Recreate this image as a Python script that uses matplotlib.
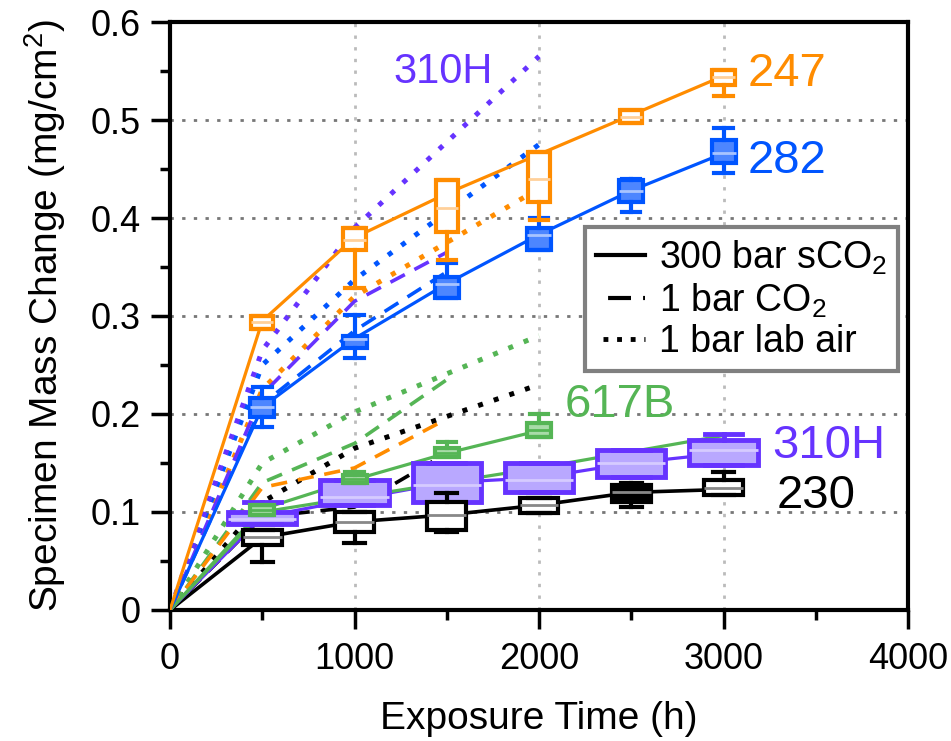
import matplotlib
matplotlib.use('Agg')
import matplotlib.pyplot as plt
from matplotlib.lines import Line2D
from matplotlib.ticker import MultipleLocator

plt.rcParams['font.family'] = ['Liberation Sans', 'DejaVu Sans']
plt.rcParams['mathtext.default'] = 'regular'

# -----------------------------------------------------------------------------
# data (mg/cm^2 vs exposure hours)
# -----------------------------------------------------------------------------
t_sco2 = [0, 500, 1000, 1500, 2000, 2500, 3000]
t_box = [500, 1000, 1500, 2000, 2500, 3000]
t_co2 = [0, 500, 1000, 1500]
t_air = [0, 500, 1000, 2000]

# 300 bar sCO2, mean lines
sco2_247 = [0, 0.295, 0.38, 0.425, 0.465, 0.505, 0.545]
sco2_282 = [0, 0.207, 0.277, 0.333, 0.383, 0.428, 0.466]
sco2_310 = [0, 0.095, 0.113, 0.130, 0.135, 0.150, 0.160]
sco2_230 = [0, 0.074, 0.090, 0.097, 0.107, 0.120, 0.123]
t_sco2_617 = [0, 500, 1000, 1500, 2000]
sco2_617 = [0, 0.103, 0.133, 0.160, 0.183]
t_sco2_617b = [0, 500, 2000, 3000]
sco2_617b = [0, 0.100, 0.145, 0.178]

# 300 bar sCO2, box statistics (q1, q3, median, whisker low, whisker high)
box_247 = dict(q1=[0.287, 0.367, 0.386, 0.416, 0.497, 0.536],
               q3=[0.300, 0.390, 0.439, 0.467, 0.510, 0.551],
               med=[0.294, 0.378, 0.410, 0.440, 0.503, 0.544],
               lo=[0.287, 0.329, 0.357, 0.398, 0.497, 0.525],
               hi=[0.300, 0.390, 0.439, 0.467, 0.510, 0.551])
box_282 = dict(q1=[0.197, 0.267, 0.318, 0.367, 0.416, 0.456],
               q3=[0.216, 0.280, 0.340, 0.390, 0.439, 0.480],
               med=[0.207, 0.277, 0.333, 0.383, 0.428, 0.466],
               lo=[0.187, 0.257, 0.318, 0.367, 0.406, 0.446],
               hi=[0.228, 0.301, 0.354, 0.400, 0.440, 0.492])
box_310 = dict(q1=[0.088, 0.107, 0.110, 0.120, 0.136, 0.148],
               q3=[0.100, 0.133, 0.150, 0.150, 0.163, 0.173],
               med=[0.093, 0.115, 0.128, 0.133, 0.150, 0.163],
               lo=[0.088, 0.107, 0.110, 0.120, 0.136, 0.148],
               hi=[0.110, 0.133, 0.150, 0.150, 0.163, 0.180])
box_230 = dict(q1=[0.066, 0.080, 0.082, 0.099, 0.110, 0.117],
               q3=[0.082, 0.100, 0.110, 0.114, 0.128, 0.133],
               med=[0.074, 0.090, 0.097, 0.107, 0.120, 0.124],
               lo=[0.049, 0.068, 0.080, 0.099, 0.105, 0.117],
               hi=[0.082, 0.100, 0.119, 0.114, 0.130, 0.141])
t_box_617 = [500, 1000, 1500, 2000]
box_617 = dict(q1=[0.097, 0.130, 0.156, 0.177],
               q3=[0.107, 0.138, 0.165, 0.191],
               med=[0.102, 0.134, 0.160, 0.184],
               lo=[0.097, 0.130, 0.156, 0.177],
               hi=[0.107, 0.141, 0.171, 0.200])

# 1 bar CO2
co2_310 = [0, 0.220, 0.315, 0.365]
co2_282 = [0, 0.210, 0.285, 0.345]
co2_247 = [0, 0.125, 0.145, 0.195]
co2_617 = [0, 0.130, 0.170, 0.235]
co2_230 = [0, 0.095, 0.105, 0.160]

# 1 bar lab air
air_310 = [0, 0.265, 0.390, 0.565]
air_282 = [0, 0.250, 0.337, 0.475]
air_247 = [0, 0.225, 0.320, 0.430]
air_617 = [0, 0.150, 0.202, 0.280]
air_230 = [0, 0.110, 0.165, 0.230]

C_247 = '#ff8c00'
C_282 = '#0055ff'
C_310 = '#6633ff'
C_617 = '#55b555'
C_230 = '#000000'

DASH = (0, (4.5, 3))
DOT = (0, (1, 2.3))


def draw_boxes(ax, t, st, color, width, face, medcolor, capw, lw=3):
    stats = [dict(med=m, q1=a, q3=b, whislo=l, whishi=h, fliers=[])
             for a, b, m, l, h in zip(st['q1'], st['q3'], st['med'], st['lo'], st['hi'])]
    return ax.bxp(stats, positions=t, widths=width, capwidths=capw,
                  patch_artist=True, showfliers=False, manage_ticks=False,
                  boxprops=dict(facecolor=face, edgecolor=color, linewidth=lw),
                  whiskerprops=dict(color=color, linewidth=lw),
                  capprops=dict(color=color, linewidth=lw),
                  medianprops=dict(color=medcolor, linewidth=2),
                  zorder=4)


fig = plt.figure(figsize=(9.51, 7.41), dpi=100)
ax = fig.add_axes([0.1788, 0.1768, 0.776, 0.7935])

# lab air (dotted)
for y, c in [(air_230, C_230), (air_617, C_617), (air_247, C_247),
             (air_282, C_282), (air_310, C_310)]:
    ax.plot(t_air, y, color=c, lw=3.6, ls=DOT, zorder=2)

# 1 bar CO2 (dashed)
for y, c in [(co2_230, C_230), (co2_617, C_617), (co2_247, C_247),
             (co2_282, C_282), (co2_310, C_310)]:
    ax.plot(t_co2, y, color=c, lw=2.6, ls=DASH, zorder=2)

# 300 bar sCO2 (solid)
ax.plot(t_sco2, sco2_230, color=C_230, lw=2.6, zorder=3)
ax.plot(t_sco2, sco2_310, color=C_310, lw=2.3, zorder=3)
ax.plot(t_sco2_617b, sco2_617b, color=C_617, lw=2.3, zorder=3)
ax.plot(t_sco2_617, sco2_617, color=C_617, lw=2.3, zorder=3)
ax.plot(t_sco2, sco2_282, color=C_282, lw=2.3, zorder=3)
ax.plot(t_sco2, sco2_247, color=C_247, lw=2.3, zorder=3)

draw_boxes(ax, t_box, box_310, C_310, 370, '#b9a8ff', '#d6cbff', 200, lw=3.5)
b230 = draw_boxes(ax, t_box, box_230, C_230, 210, 'white', '#888888', 115)
b230['boxes'][4].set_facecolor('black')
draw_boxes(ax, t_box_617, box_617, C_617, 130, '#a8dba8', C_617, 100)
draw_boxes(ax, t_box, box_282, C_282, 130, '#4d86ff', '#a9c4ff', 100)
draw_boxes(ax, t_box, box_247, C_247, 120, 'white', '#ffd09a', 100)

# labels
lab_kw = dict(va='baseline', ha='left', fontsize=34)
ax.text(3133, 0.535, '247', color=C_247, **lab_kw)
ax.text(3133, 0.446, '282', color=C_282, **lab_kw)
ax.text(2141, 0.197, '617B', color=C_617, **lab_kw)
ax.text(3263, 0.155, '310H', color=C_310, **lab_kw)
ax.text(3290, 0.104, '230', color=C_230, **lab_kw)
ax.text(1209, 0.538, '310H', color=C_310, va='baseline', ha='left', fontsize=30)

# axes
ax.set_xlim(0, 4000)
ax.set_ylim(0, 0.6)
ax.xaxis.set_major_locator(MultipleLocator(1000))
ax.xaxis.set_minor_locator(MultipleLocator(500))
ax.yaxis.set_major_locator(MultipleLocator(0.1))
ax.yaxis.set_minor_locator(MultipleLocator(0.05))
ax.set_yticks([0, 0.1, 0.2, 0.3, 0.4, 0.5, 0.6])
ax.set_yticklabels(['0', '0.1', '0.2', '0.3', '0.4', '0.5', '0.6'])
ax.tick_params(which='major', length=14, width=2.5, labelsize=26, direction='out')
ax.tick_params(axis='x', which='major', pad=9)
ax.tick_params(axis='y', which='major', pad=7)
ax.tick_params(which='minor', length=7, width=2.5, direction='out')
for s in ax.spines.values():
    s.set_linewidth(3)

ax.set_axisbelow(True)
ax.yaxis.grid(True, color='#777777', lw=2, ls=(0, (1.2, 3)))
ax.xaxis.grid(True, color='#bbbbbb', lw=2, ls=(0, (1.2, 3)))

ax.set_xlabel('Exposure Time (h)', fontsize=28, labelpad=17)
ax.set_ylabel('Specimen Mass Change (mg/cm$^2$)', fontsize=28, labelpad=16)

handles = [
    Line2D([], [], color='k', lw=3),
    Line2D([], [], color='k', lw=3, ls=(5.5, (5.5, 2.9))),
    Line2D([], [], color='k', lw=3.5, ls=(1.36, (1, 1.8))),
]
labels = ['300 bar sCO$_2$', '1 bar CO$_2$', '1 bar lab air']
leg = ax.legend(handles, labels, loc='upper left', bbox_to_anchor=(0.562, 0.651),
                borderaxespad=0, fontsize=27, handlelength=1.3, handletextpad=0.37,
                labelspacing=0.12, borderpad=0.3, fancybox=False, framealpha=1)
leg.get_frame().set_edgecolor('#808080')
leg.get_frame().set_linewidth(3)
leg.set_zorder(6)

fig.savefig('out.png', dpi=100)
